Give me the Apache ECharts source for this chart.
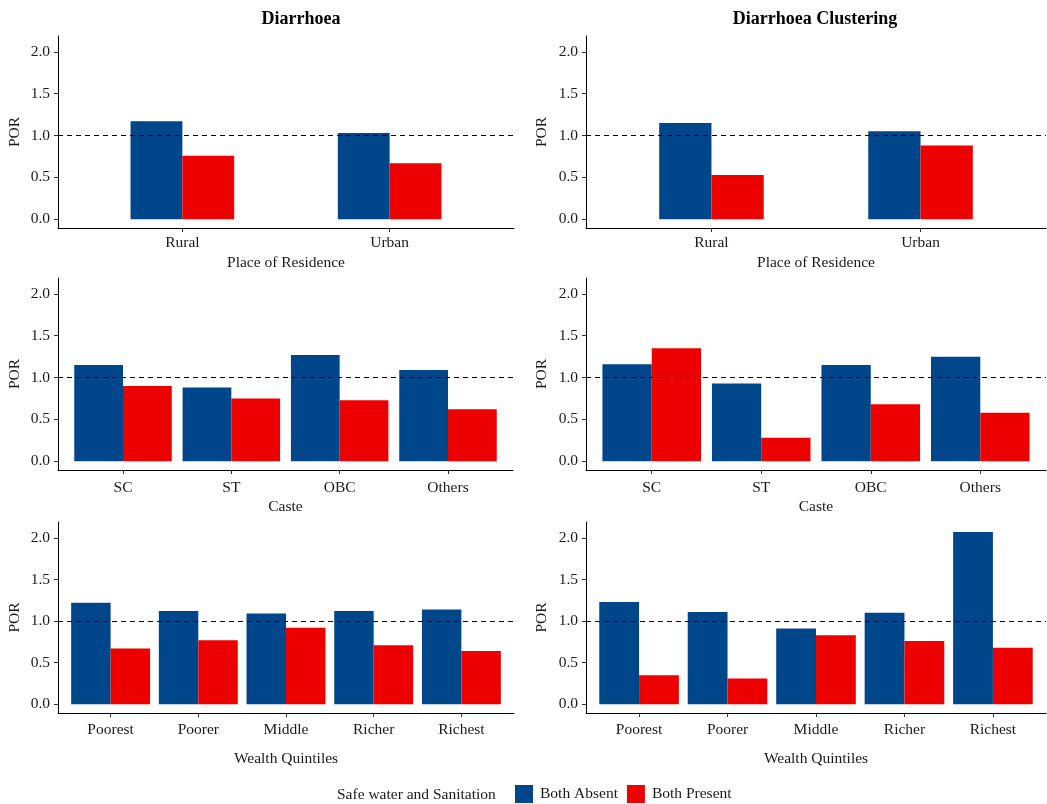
<!DOCTYPE html>
<html>
<head>
<meta charset="utf-8">
<script src="https://cdn.jsdelivr.net/npm/echarts@6/dist/echarts.min.js"></script>
<style>
  html, body { margin: 0; padding: 0; background: #fff; }
  #chart { width: 1047px; height: 804px; }
</style>
</head>
<body>
<div id="chart"></div>
<script>
// categories
const residence = ['Rural', 'Urban']
const caste = ['SC', 'ST', 'OBC', 'Others']
const wealth = ['Poorest', 'Poorer', 'Middle', 'Richer', 'Richest']
const yTicks = [0, 0.5, 1.0, 1.5, 2.0]

// POR values, Diarrhoea
const diarResAbsent = [1.17, 1.03]
const diarResPresent = [0.76, 0.67]
const diarCasteAbsent = [1.15, 0.88, 1.27, 1.09]
const diarCastePresent = [0.90, 0.75, 0.73, 0.62]
const diarWealthAbsent = [1.22, 1.12, 1.09, 1.12, 1.14]
const diarWealthPresent = [0.67, 0.77, 0.92, 0.71, 0.64]

// POR values, Diarrhoea Clustering
const clusResAbsent = [1.15, 1.05]
const clusResPresent = [0.53, 0.88]
const clusCasteAbsent = [1.16, 0.93, 1.15, 1.25]
const clusCastePresent = [1.35, 0.28, 0.68, 0.58]
const clusWealthAbsent = [1.23, 1.11, 0.91, 1.10, 2.07]
const clusWealthPresent = [0.35, 0.31, 0.83, 0.76, 0.68]

const BLUE = '#00468B'
const RED = '#ED0000'
const FONT = '"Liberation Serif", "DejaVu Serif", serif'
const TXT = '#1a1a1a'

const panels = [
    { cats: residence, absent: diarResAbsent, present: diarResPresent, xName: 'Place of Residence', bar: '25%', left: 58, width: 456, top: 36, height: 192, lblMargin: 7, nameGap: 27, yGap: 35 },
    { cats: residence, absent: clusResAbsent, present: clusResPresent, xName: 'Place of Residence', bar: '25%', left: 586, width: 460, top: 36, height: 192, lblMargin: 7, nameGap: 27, yGap: 36 },
    { cats: caste, absent: diarCasteAbsent, present: diarCastePresent, xName: 'Caste', bar: '45%', left: 58, width: 455, top: 278, height: 192, lblMargin: 10, nameGap: 29, yGap: 35 },
    { cats: caste, absent: clusCasteAbsent, present: clusCastePresent, xName: 'Caste', bar: '45%', left: 586, width: 460, top: 278, height: 192, lblMargin: 10, nameGap: 29, yGap: 36 },
    { cats: wealth, absent: diarWealthAbsent, present: diarWealthPresent, xName: 'Wealth Quintiles', bar: '45%', left: 58, width: 456, top: 522, height: 191, lblMargin: 9, nameGap: 38, yGap: 35 },
    { cats: wealth, absent: clusWealthAbsent, present: clusWealthPresent, xName: 'Wealth Quintiles', bar: '45%', left: 586, width: 460, top: 522, height: 191, lblMargin: 9, nameGap: 38, yGap: 36 },
]

const axisLine = { show: true, onZero: false, lineStyle: { color: '#000', width: 1 } }
const axisTick = { show: true, inside: false, length: 4, lineStyle: { color: '#333', width: 1 } }
const labelText = { color: TXT, fontSize: 15.5, fontFamily: FONT }

const grid = [], xAxis = [], yAxis = [], series = []

panels.forEach((p, i) => {
    const pos = p.cats.map((c, k) => k + 1)
    grid.push({ left: p.left, top: p.top, width: p.width, height: p.height, outerBoundsMode: 'none' })
    // ggplot style discrete axis: 0.6 units of padding on each side
    xAxis.push({
        gridIndex: i,
        type: 'value',
        min: 0.4,
        max: p.cats.length + 0.6,
        axisLine,
        axisTick: { ...axisTick, customValues: pos },
        axisLabel: { ...labelText, margin: p.lblMargin, customValues: pos, formatter: (v) => p.cats[Math.round(v) - 1] || '' },
        splitLine: { show: false },
        name: p.xName,
        nameLocation: 'middle',
        nameGap: p.nameGap,
        nameTextStyle: { color: TXT, fontSize: 15.5, fontFamily: FONT },
    })
    yAxis.push({
        gridIndex: i,
        type: 'value',
        min: -0.105,
        max: 2.19,
        axisLine,
        axisTick: { ...axisTick, customValues: yTicks },
        axisLabel: { ...labelText, margin: 8, customValues: yTicks, formatter: (v) => v.toFixed(1) },
        splitLine: { show: false },
        name: 'POR',
        nameLocation: 'middle',
        nameGap: p.yGap,
        nameTextStyle: { color: TXT, fontSize: 15.5, fontFamily: FONT },
    })
    series.push({
        name: 'Both Absent',
        type: 'bar',
        xAxisIndex: i,
        yAxisIndex: i,
        data: p.absent.map((v, k) => [k + 1, v]),
        barWidth: p.bar,
        barGap: '0%',
        itemStyle: { color: BLUE },
        markLine: {
            silent: true,
            symbol: ['none', 'none'],
            label: { show: false },
            lineStyle: { color: '#000', type: [5, 4], width: 1.2 },
            data: [{ yAxis: 1 }],
        },
    })
    series.push({
        name: 'Both Present',
        type: 'bar',
        xAxisIndex: i,
        yAxisIndex: i,
        data: p.present.map((v, k) => [k + 1, v]),
        barWidth: p.bar,
        barGap: '0%',
        itemStyle: { color: RED },
    })
})

const chart = echarts.init(document.getElementById('chart'), null, { renderer: 'canvas' })

chart.setOption({
    animation: false,
    backgroundColor: '#fff',
    grid,
    xAxis,
    yAxis,
    series,
    legend: {
        left: 515,
        top: 785,
        padding: 0,
        itemWidth: 18,
        itemHeight: 18,
        itemGap: 9,
        icon: 'rect',
        data: ['Both Absent', 'Both Present'],
        textStyle: { color: TXT, fontSize: 15.5, fontFamily: FONT, padding: [0, 0, 0, 2] },
    },
    graphic: [
        { type: 'text', x: 301, y: 19, style: { text: 'Diarrhoea', font: 'bold 18px ' + FONT, fill: '#000', align: 'center', verticalAlign: 'middle' } },
        { type: 'text', x: 815, y: 19, style: { text: 'Diarrhoea Clustering', font: 'bold 18px ' + FONT, fill: '#000', align: 'center', verticalAlign: 'middle' } },
        { type: 'text', x: 337, y: 795, style: { text: 'Safe water and Sanitation', font: '15.5px ' + FONT, fill: TXT, align: 'left', verticalAlign: 'middle' } },
    ],
})
</script>
</body>
</html>
